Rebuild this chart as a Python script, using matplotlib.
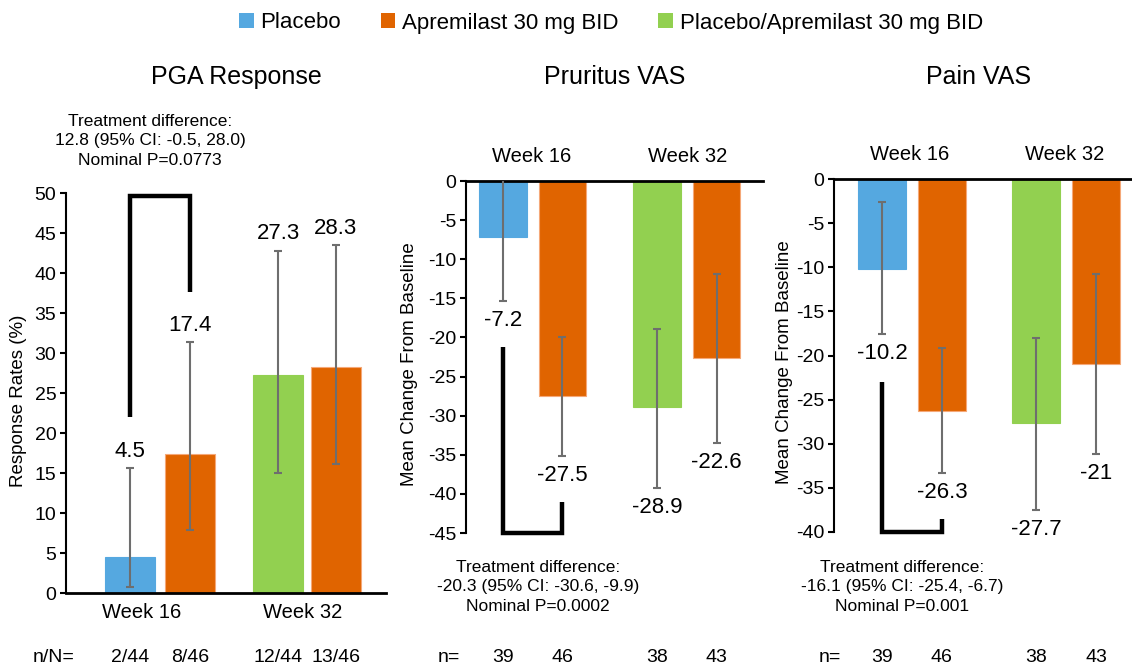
import matplotlib
matplotlib.use('Agg')
import matplotlib.pyplot as plt
import matplotlib.transforms as mtransforms
from matplotlib.patches import Patch

plt.rcParams['font.family'] = ['Liberation Sans', 'DejaVu Sans']
plt.rcParams['axes.unicode_minus'] = False

# data
series_names = ['Placebo', 'Apremilast 30 mg BID', 'Placebo/Apremilast 30 mg BID']
series_colors = ['#55a8e0', '#e06400', '#92d050']
bar_series = [0, 1, 2, 1]
weeks = ['Week 16', 'Week 32']

pga_values = [4.5, 17.4, 27.3, 28.3]
pga_low = [0.7, 7.9, 15.0, 16.1]
pga_high = [15.6, 31.4, 42.8, 43.5]
pga_n = ['2/44', '8/46', '12/44', '13/46']

pruritus_values = [-7.2, -27.5, -28.9, -22.6]
pruritus_low = [-15.4, -35.1, -39.2, -33.5]
pruritus_high = [1.0, -20.0, -18.9, -11.9]
pruritus_n = ['39', '46', '38', '43']

pain_values = [-10.2, -26.3, -27.7, -21]
pain_low = [-17.6, -33.3, -37.5, -31.2]
pain_high = [-2.6, -19.2, -18.0, -10.8]
pain_n = ['39', '46', '38', '43']

pga_diff = 'Treatment difference:\n12.8 (95% CI: -0.5, 28.0)\nNominal P=0.0773'
pruritus_diff = 'Treatment difference:\n-20.3 (95% CI: -30.6, -9.9)\nNominal P=0.0002'
pain_diff = 'Treatment difference:\n-16.1 (95% CI: -25.4, -6.7)\nNominal P=0.001'

W, H = 1132, 665
fig = plt.figure(figsize=(W / 100, H / 100), dpi=100)


def fx(px):
    return px / W


def fy(py):
    return 1 - py / H


def panel(box, pos, xlim, width, values, low, high, ylim, yticks, ylabel, lab_x,
          bracket, n_labels, n_prefix, n_prefix_x):
    left, top, right, bottom = box
    ax = fig.add_axes([fx(left), fy(bottom), (right - left) / W, (bottom - top) / H])
    cols = [series_colors[s] for s in bar_series]
    edges = ['#f5a878' if s == 1 else c for s, c in zip(bar_series, cols)]
    ax.bar(pos, values, width=width, color=cols, edgecolor=edges, linewidth=0.8, zorder=2)
    yerr = [[v - l for v, l in zip(values, low)], [h - v for v, h in zip(values, high)]]
    ax.errorbar(pos, values, yerr=yerr, fmt='none', ecolor='#6e6e6e', elinewidth=1.5,
                capsize=3, capthick=1.5, zorder=3)
    positive = ylim[1] > 0
    for p, v, l, h in zip(pos, values, low, high):
        if positive:
            ax.annotate(f'{v:g}', (p, h), xytext=(0, 12), textcoords='offset points',
                        ha='center', va='center', fontsize=16)
        else:
            ax.annotate(f'{v:g}', (p, l), xytext=(0, -14), textcoords='offset points',
                        ha='center', va='center', fontsize=16)
    y0, yc, y1 = bracket
    ax.plot([pos[0], pos[0], pos[1], pos[1]], [y0, yc, yc, y1], color='black', lw=3.2,
            clip_on=False, solid_joinstyle='miter', solid_capstyle='butt', zorder=4)
    ax.set_xlim(xlim)
    ax.set_ylim(ylim)
    ax.set_yticks(yticks)
    ax.set_xticks([])
    ax.tick_params(axis='y', labelsize=14, length=4, width=1.5, pad=3)
    ax.spines['right'].set_visible(False)
    ax.spines['left'].set_linewidth(1.5)
    if positive:
        ax.spines['top'].set_visible(False)
        ax.spines['bottom'].set_linewidth(2)
    else:
        ax.spines['bottom'].set_visible(False)
        ax.spines['top'].set_linewidth(2)
    ax.set_ylabel(ylabel, fontsize=13.5)
    ax.yaxis.set_label_coords(lab_x, 0.48)
    trans = mtransforms.blended_transform_factory(ax.transData, fig.transFigure)
    for p, t in zip(pos, n_labels):
        ax.text(p, fy(657), t, transform=trans, ha='center', va='center', fontsize=14)
    fig.text(fx(n_prefix_x), fy(657), n_prefix, ha='center', va='center', fontsize=14)
    return ax


panel((66, 193, 386, 593), [0, 1, 2.47, 3.43], (-1.07, 4.27), 0.83,
      pga_values, pga_low, pga_high, (0, 50), range(0, 51, 5), 'Response Rates (%)', -0.122,
      (22, 49.6, 37.6), pga_n, 'n/N=', 54)
panel((466, 181, 763, 533), [0, 1, 2.59, 3.59], (-0.62, 4.37), 0.8,
      pruritus_values, pruritus_low, pruritus_high, (-45, 0), range(0, -46, -5),
      'Mean Change From Baseline', -0.162, (-21.2, -45, -41), pruritus_n, 'n=', 449)
panel((834, 179, 1132, 532), [0, 1, 2.57, 3.57], (-0.8, 4.17), 0.8,
      pain_values, pain_low, pain_high, (-40, 0), range(0, -41, -5),
      'Mean Change From Baseline', -0.137, (-23, -40, -38.5), pain_n, 'n=', 830)

# titles
for x, t in [(236, 'PGA Response'), (615, 'Pruritus VAS'), (979, 'Pain VAS')]:
    fig.text(fx(x), fy(77), t, ha='center', va='center', fontsize=18)

# week labels
for x, y, t in [(142, 612, weeks[0]), (303, 612, weeks[1]),
                (532, 157, weeks[0]), (688, 157, weeks[1]),
                (910, 155, weeks[0]), (1065, 155, weeks[1])]:
    fig.text(fx(x), fy(y), t, ha='center', va='center', fontsize=14.5)

# treatment differences
for x, y, t in [(150, 141, pga_diff), (538, 587, pruritus_diff), (902, 587, pain_diff)]:
    fig.text(fx(x), fy(y), t, ha='center', va='center', fontsize=12.5, linespacing=1.4,
             multialignment='center')

handles = [Patch(facecolor=c, edgecolor='none') for c in series_colors]
fig.legend(handles, series_names, loc='center', bbox_to_anchor=(fx(611), fy(23)), ncol=3,
           frameon=False, fontsize=16, handlelength=0.65, handleheight=0.65,
           handletextpad=0.3, columnspacing=1.8, borderpad=0)

fig.savefig('out.png', dpi=100)
